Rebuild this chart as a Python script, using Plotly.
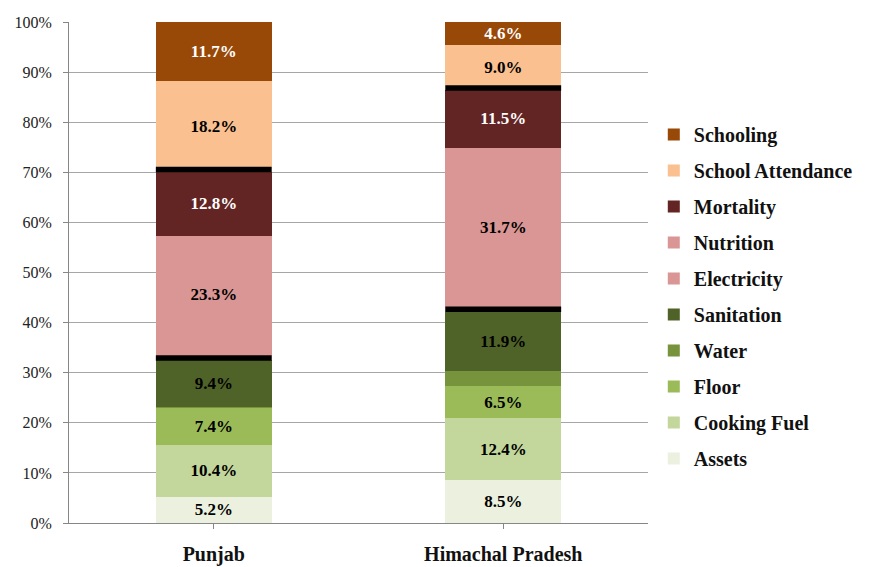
import plotly.graph_objects as go

categories = ["Punjab", "Himachal Pradesh"]
assets = [5.2, 8.5]
cooking_fuel = [10.4, 12.4]
floor = [7.4, 6.5]
water = [0.1, 2.9]
sanitation = [9.4, 11.9]
electricity = [1.5, 1.0]
nutrition = [23.3, 31.7]
mortality = [12.8, 11.5]
school_attendance = [18.2, 9.0]
schooling = [11.7, 4.6]
y_ticks = [0, 10, 20, 30, 40, 50, 60, 70, 80, 90, 100]
y_tick_labels = [f"{v}%" for v in y_ticks]

series = [
    ("Assets", assets, "#EBF1DE", True, "black"),
    ("Cooking Fuel", cooking_fuel, "#C3D69B", True, "black"),
    ("Floor", floor, "#9BBB59", True, "black"),
    ("Water", water, "#77933C", False, "black"),
    ("Sanitation", sanitation, "#4F6228", True, "black"),
    ("Electricity", electricity, "#D99694", False, "black"),
    ("Nutrition", nutrition, "#D99694", True, "black"),
    ("Mortality", mortality, "#632523", True, "white"),
    ("School Attendance", school_attendance, "#FAC090", True, "black"),
    ("Schooling", schooling, "#984807", True, "white"),
]

FONT = "Liberation Serif"
BAR_W = 0.4
xs = list(range(len(categories)))

fig = go.Figure()
n = len(series)
for k, (name, vals, color, labeled, tcol) in enumerate(series):
    fig.add_trace(go.Bar(
        x=xs, y=vals, name=name, width=BAR_W,
        marker=dict(color=color, line=dict(width=0)),
        text=[f"{v:.1f}%" if labeled else "" for v in vals],
        textposition="inside", insidetextanchor="middle", textangle=0,
        constraintext="none",
        textfont=dict(family=FONT, size=17, color=tcol, weight="bold"),
        legendgroup=name, legendrank=n - k,
    ))

# black separators between dimension groups, computed from the stacked values
def cum_through(idx):
    return [sum(s[1][i] for s in series[:idx + 1]) for i in range(len(categories))]

sep_sets = [cum_through(4), cum_through(7)]
for tops in sep_sets:
    for i, b in enumerate(tops):
        fig.add_shape(type="rect", xref="x", yref="y",
                      x0=i - BAR_W / 2, x1=i + BAR_W / 2,
                      y0=b - 0.1, y1=b + 1.0,
                      fillcolor="black", line=dict(width=0), layer="above")

fig.update_layout(
    width=867, height=559,
    margin=dict(l=61, r=227, t=14, b=44, autoexpand=False),
    barmode="stack",
    paper_bgcolor="white", plot_bgcolor="white",
    font=dict(family=FONT, color="#1a1a1a"),
    showlegend=True,
    legend=dict(
        traceorder="grouped", tracegroupgap=7,
        x=1.01, xanchor="left", y=0.452, yanchor="middle",
        font=dict(family=FONT, size=20, color="#111", weight="bold"),
        bgcolor="rgba(0,0,0,0)",
    ),
    xaxis=dict(
        tickvals=xs, ticktext=categories, range=[-0.5, 1.5],
        automargin=False,
        showline=True, linecolor="#868686", linewidth=1,
        ticks="outside", ticklen=5, tickcolor="#868686",
        tickson="boundaries", showgrid=False,
        tickfont=dict(family=FONT, size=20, color="#111", weight="bold"),
        ticklabelstandoff=8,
    ),
    yaxis=dict(
        range=[0, 100], tickvals=y_ticks, ticktext=y_tick_labels,
        automargin=False,
        showline=True, linecolor="#868686", linewidth=1,
        ticks="outside", ticklen=5, tickcolor="#868686",
        showgrid=True, gridcolor="#a6a6a6", gridwidth=1,
        zeroline=False,
        tickfont=dict(family=FONT, size=16, color="#222"),
        ticklabelstandoff=8,
    ),
    uniformtext=dict(minsize=17, mode="show"),
)

fig.write_html("out.html")
